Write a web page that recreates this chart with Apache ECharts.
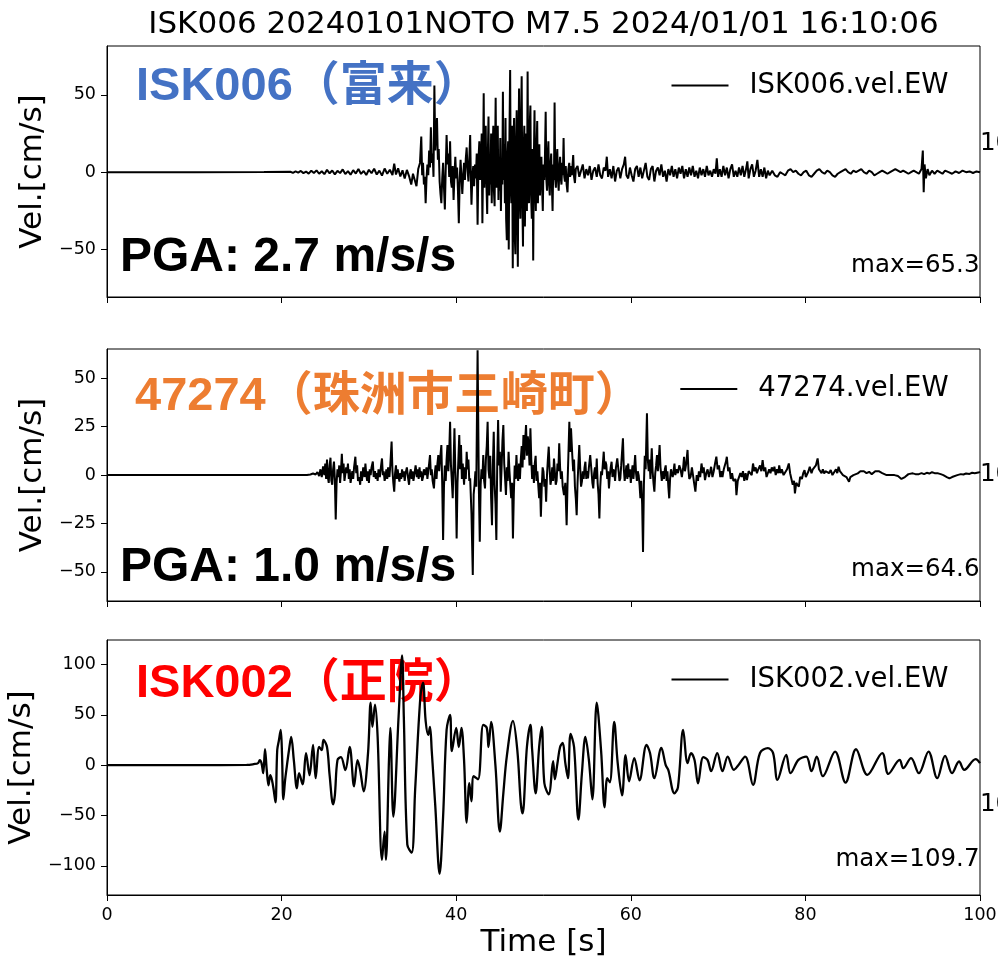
<!DOCTYPE html>
<html>
<head>
<meta charset="utf-8">
<script src="https://cdn.jsdelivr.net/npm/echarts@6/dist/echarts.min.js"></script>
<style>
  html, body { margin: 0; padding: 0; background: #fff; }
  #chart { width: 998px; height: 965px; }
</style>
</head>
<body>
<div id="chart"></div>
<script>
// --- data -------------------------------------------------------------
const titleText = "ISK006 20240101NOTO M7.5 2024/01/01 16:10:06";
const stationNames = ["ISK006（富来）", "47274（珠洲市三崎町）", "ISK002（正院）"];
const legendNames = ["ISK006.vel.EW", "47274.vel.EW", "ISK002.vel.EW"];
const maxLabels = ["max=65.3", "max=64.6", "max=109.7"];
const pgaLabels = ["PGA: 2.7 m/s/s", "PGA: 1.0 m/s/s"];
const xTicks = [0, 20, 40, 60, 80, 100];
const yTicksIsk006 = [-50, 0, 50];
const yTicks47274 = [-50, -25, 0, 25, 50];
const yTicksIsk002 = [-100, -50, 0, 50, 100];

// [time s, velocity cm/s]
const waveIsk006 = [
  [0,0],[10,0],[18,0.1],[21,0.3],[21.3,-0.4],[21.6,0.5],[21.9,-0.3],[22.2,0.8],[22.5,-0.6],[22.8,0.4],[23.1,-0.9],[23.4,1],
  [23.7,-0.5],[24,1.2],[24.3,-1],[24.6,0.6],[24.9,-1.3],[25.2,1.5],[25.5,-0.7],[25.8,1.1],[26.1,-1.4],[26.4,0.9],[26.7,-0.6],[27,1.8],
  [27.3,-1.2],[27.6,0.7],[27.9,-1.6],[28.2,1.3],[28.5,-0.9],[28.8,2],[29.1,-1.1],[29.4,0.8],[29.7,-1.8],[30,1.6],[30.3,-0.7],[30.6,2.2],
  [30.9,-1.5],[31.2,1],[31.5,-2.2],[31.8,2.4],[32.1,-1],[32.4,1.6],[32.7,-1.8],[32.9,5.5],[33.1,-1.5],[33.35,2.5],[33.6,-2.8],[33.85,1.2],
  [34.1,-4],[34.35,1.5],[34.6,-2.5],[34.85,-8],[35.05,-1],[35.25,-5],[35.45,-9],[35.65,2],[35.85,6],[36.0,23],[36.1,-2],[36.2,6],
  [36.3,-8],[36.4,-3],[36.5,-20],[36.6,-4],[36.7,5],[36.8,-2],[36.9,14],[37.0,3],[37.1,29],[37.2,6],[37.3,12],[37.4,-3],
  [37.5,56],[37.6,14],[37.7,24],[37.8,35],[37.9,8],[38.0,15],[38.1,-6],[38.2,-14],[38.3,-20],[38.4,-4],[38.5,6],[38.6,-10],
  [38.7,-24],[38.8,2],[38.9,24],[39.0,5],[39.1,12],[39.2,-3],[39.3,20],[39.4,-6],[39.5,-10],[39.6,4],[39.7,-18],[39.8,-2],
  [39.9,10],[40.0,-4],[40.1,3],[40.2,-12],[40.3,-33],[40.4,-5],[40.5,8],[40.6,-3],[40.7,-14],[40.8,-2],[40.9,6],[41.0,-5],
  [41.1,9],[41.2,16],[41.3,2],[41.4,-6],[41.5,8],[41.6,24],[41.7,-10],[41.75,-21],[41.85,-3],[41.95,4],[42.05,-9],[42.15,5],
  [42.25,-4],[42.35,12],[42.45,-34],[42.55,8],[42.65,20],[42.75,-5],[42.85,10],[42.92,25],[43.0,-33],[43.08,6],[43.15,51],[43.22,-10],
  [43.3,14],[43.38,30],[43.45,-5],[43.55,-27],[43.62,10],[43.7,36],[43.78,-15],[43.85,5],[43.92,-8],[44.0,25],[44.07,-20],[44.15,8],
  [44.25,30],[44.32,-12],[44.4,-22],[44.45,10],[44.52,48],[44.6,-10],[44.68,15],[44.76,30],[44.84,-18],[44.9,6],[44.98,-12],[45.05,22],
  [45.12,-25],[45.2,5],[45.28,-8],[45.35,52],[45.42,-5],[45.5,18],[45.58,-20],[45.65,35],[45.72,-30],[45.8,-44],[45.88,10],[45.95,20],
  [46.02,-50],[46.1,25],[46.18,66],[46.25,-10],[46.32,-20],[46.4,30],[46.48,-62],[46.56,15],[46.63,35],[46.7,-40],[46.78,-53],[46.86,20],
  [46.93,40],[47.0,-25],[47.06,-61],[47.14,20],[47.2,54],[47.28,-15],[47.35,-30],[47.42,30],[47.5,62],[47.58,-20],[47.65,-48],[47.72,10],
  [47.8,30],[47.87,-35],[47.95,5],[48.02,25],[48.1,-25],[48.18,65],[48.26,-10],[48.34,-20],[48.42,30],[48.5,43],[48.58,-15],[48.66,-30],
  [48.74,15],[48.82,-57],[48.9,10],[48.97,40],[49.05,-10],[49.12,-25],[49.2,15],[49.28,33],[49.36,-20],[49.44,5],[49.52,18],[49.6,-15],
  [49.68,5],[49.76,10],[49.84,-10],[49.92,-25],[50.0,5],[50.08,-5],[50.16,8],[50.25,39],[50.33,-5],[50.4,-12],[50.48,10],[50.56,20],
  [50.64,-8],[50.72,-15],[50.8,5],[50.88,12],[50.96,-8],[51.04,-25],[51.12,5],[51.2,-5],[51.27,45],[51.35,-5],[51.42,-10],[51.5,8],
  [51.58,15],[51.66,-5],[51.74,-12],[51.82,3],[51.9,10],[51.98,-4],[52.06,-8],[52.14,6],[52.22,-2],[52.3,22],[52.38,-3],[52.46,-6],
  [52.55,4],[52.65,-8],[52.75,-13],[52.85,2],[52.95,6],[53.05,-3],[53.15,4],[53.25,-2],[53.4,11],[53.5,-3],[53.6,-7],[53.7,2],
  [53.9,4],[54.1,-3],[54.3,1],[54.5,5],[54.7,-4],[54.9,2],[55.1,-2],[55.3,4],[55.5,-5],[55.7,1],[55.9,3],[56.1,-3],
  [56.3,5],[56.5,-2],[56.7,-4],[56.9,3],[57.1,1],[57.25,10],[57.4,-3],[57.6,2],[57.8,-4],[58.0,4],[58.2,-6],[58.4,1],
  [58.6,3],[58.8,-4],[59.0,2],[59.2,5],[59.35,10],[59.5,-2],[59.7,-4],[59.9,3],[60.1,-2],[60.3,-6],[60.5,2],[60.7,4],
  [60.9,-3],[61.1,3],[61.3,-4],[61.5,1],[61.7,6],[61.9,-3],[62.1,-5],[62.3,2],[62.5,4],[62.7,-6],[62.9,1],[63.1,3],
  [63.3,-2],[63.5,5],[63.7,-3],[63.9,1],[64.1,-6],[64.3,2],[64.5,-2],[64.7,4],[64.9,-3],[65.1,2],[65.3,-4],[65.5,3],
  [65.7,-1],[65.9,4],[66.1,-4],[66.3,2],[66.5,-3],[66.7,3],[66.9,-2],[67.1,4],[67.3,-3],[67.5,1],[67.7,-4],[67.9,3],
  [68.1,-2],[68.3,2],[68.5,-3],[68.7,4],[68.9,-2],[69.1,1],[69.3,-3],[69.5,2],[69.7,-1],[69.85,9],[70.0,-3],[70.2,2],
  [70.4,-3],[70.6,4],[70.8,-2],[71.0,3],[71.2,-4],[71.4,2],[71.6,5],[71.8,-3],[72.0,1],[72.2,-3],[72.4,3],[72.6,-2],
  [72.8,4],[73.0,-3],[73.2,2],[73.35,7],[73.5,-4],[73.7,2],[73.9,5],[74.1,-3],[74.3,1],[74.5,8],[74.7,-3],[74.9,2],
  [75.1,-3],[75.3,3],[75.5,-4],[75.7,1],[75.9,-2],[76.2,1],[76.5,-2],[76.8,-3],[77.1,0],[77.4,-1],[77.7,-2],[78.0,1],
  [78.3,2],[78.6,0],[78.9,1],[79.2,-1],[79.5,-2],[79.8,0],[80.1,1],[80.4,-2],[80.7,-3],[81.0,-1],[81.3,1],[81.6,2],
  [81.9,0],[82.2,-1],[82.5,1],[82.8,0],[83.1,-2],[83.4,-3],[83.7,-1],[84.0,0],[84.3,1],[84.6,2],[84.9,0],[85.2,-1],
  [85.5,1],[85.8,0],[86.1,1],[86.4,2],[86.7,0],[87.0,-1],[87.3,1],[87.6,0],[87.9,-2],[88.2,-1],[88.5,0],[88.8,1],
  [89.1,0],[89.4,-1],[89.7,0],[90.0,1],[90.3,2],[90.6,1],[90.9,0],[91.2,1],[91.5,0],[91.8,-1],[92.1,0],[92.4,1],
  [92.7,0],[93.0,-1],[93.3,2],[93.45,14],[93.55,-13],[93.65,5],[93.8,-4],[94.0,2],[94.2,-2],[94.5,1],[94.8,-1],[95.1,1],
  [95.4,0],[95.7,-1],[96.0,1],[96.4,0],[96.8,-1],[97.2,0.5],[97.6,-0.5],[98.0,1],[98.4,0],[98.8,0.5],[99.2,-0.5],[99.6,0.5],
  [100,0]
];

const wave47274 = [
  [0,0],[10,0],[20,0],[22.9,0],[23.3,0.3],[23.6,0.8],[23.9,0.3],[24.1,1.5],[24.3,-0.5],[24.45,3],[24.6,-1],[24.75,4.5],
  [24.9,0],[25.0,6],[25.1,-2],[25.2,8],[25.3,-1],[25.4,-4],[25.5,5],[25.6,9],[25.7,-3],[25.8,-5],[25.9,3],[26.0,7],
  [26.1,-2],[26.2,-23],[26.3,-4],[26.4,3],[26.5,-1],[26.6,5],[26.7,-4],[26.8,2],[26.9,11],[27.0,1],[27.1,6],[27.2,-3],
  [27.3,-4],[27.4,4],[27.5,1],[27.6,6],[27.7,-2],[27.8,3],[27.9,-4],[28.0,-5],[28.1,2],[28.2,-2],[28.3,4],[28.45,9.5],
  [28.55,1],[28.65,5],[28.75,-3],[28.9,-1],[29.0,-5],[29.1,2],[29.2,-3],[29.35,4],[29.5,-1],[29.6,6],[29.7,0],[29.8,-3],
  [29.9,2],[30.0,-4],[30.1,3],[30.2,0],[30.3,4],[30.45,7],[30.55,-1],[30.7,2],[30.8,-2],[30.9,1],[31.0,-3],[31.1,3],
  [31.25,-1],[31.4,5],[31.5,8.6],[31.6,0],[31.7,2],[31.8,-3],[31.9,-1],[32.0,3],[32.1,-2],[32.2,4],[32.35,-1],[32.45,5],
  [32.6,17.3],[32.7,2],[32.8,-4],[32.9,-8.6],[33.0,1],[33.1,5],[33.2,-2],[33.3,3],[33.4,-1],[33.5,-3.4],[33.6,1],[33.7,-2],
  [33.8,3],[33.9,-1],[34.0,2],[34.1,-3],[34.2,1],[34.35,4],[34.5,-2],[34.6,-5],[34.7,1],[34.8,3],[34.9,-2],[35.0,2],
  [35.1,-3],[35.2,0],[35.35,5],[35.5,-1],[35.6,3],[35.7,-2],[35.8,4],[35.9,-1],[36.0,2],[36.1,-3],[36.2,-1],[36.3,3],
  [36.45,0],[36.6,4],[36.7,-2],[36.8,2],[36.9,6],[37.0,10.4],[37.1,0],[37.2,3],[37.3,-3],[37.45,-6.9],[37.55,1],[37.65,5],
  [37.75,-2],[37.85,6],[37.95,10.4],[38.05,2],[38.15,8],[38.3,15.5],[38.4,-5],[38.5,-33.6],[38.6,-6],[38.7,5],[38.8,-3],[38.9,8],
  [39.0,15.5],[39.1,2],[39.2,12],[39.3,27.6],[39.4,5],[39.5,-3],[39.6,-12],[39.7,6],[39.8,24.2],[39.9,2],[39.97,-10],[40.05,-32.8],
  [40.15,-4],[40.25,8],[40.35,20.7],[40.45,3],[40.55,15.5],[40.65,-2],[40.75,6],[40.9,-5],[41.0,4],[41.1,-2],[41.2,12],[41.3,3],
  [41.4,8],[41.5,-3],[41.6,-1.7],[41.75,-20],[41.9,-51.7],[42.0,-10],[42.1,-5],[42.2,2],[42.3,-6],[42.45,64.6],[42.6,-8],[42.7,-34.5],
  [42.8,-5],[42.9,3],[43.0,-2],[43.1,10.4],[43.2,-3],[43.3,-6.9],[43.4,8],[43.5,15],[43.6,27.6],[43.7,3],[43.8,-1.7],[43.9,10],
  [44.0,-12],[44.1,-25.9],[44.2,5],[44.3,22.4],[44.4,-5],[44.5,-15],[44.6,-33.6],[44.7,6],[44.8,28.5],[44.9,5],[45.0,12],[45.1,-8.6],
  [45.2,4],[45.3,18],[45.4,25.9],[45.5,6],[45.6,-2],[45.7,-10.3],[45.8,4],[45.9,-3],[46.0,12.1],[46.1,2],[46.2,-5.2],[46.3,-12],
  [46.4,-4],[46.5,-32.8],[46.6,-10],[46.7,5],[46.8,-2],[46.9,10.4],[47.0,0],[47.1,-3],[47.2,6],[47.3,-2],[47.4,8],[47.5,15],
  [47.6,4],[47.7,20.7],[47.8,8],[47.9,18],[48.0,25.9],[48.1,10],[48.2,20],[48.3,15.5],[48.4,5],[48.5,24.2],[48.6,8],[48.7,-2],
  [48.8,5.2],[48.9,-4],[49.0,6],[49.1,10],[49.2,-3],[49.3,2],[49.4,-5.2],[49.5,-12],[49.6,-4],[49.7,-21.5],[49.8,-6],[49.9,4],
  [50.0,1.7],[50.1,-6],[50.2,-2],[50.3,-13.8],[50.4,0],[50.5,8],[50.6,14.7],[50.7,3],[50.8,-5],[50.9,-2],[51.0,4],[51.1,-3],
  [51.2,8.6],[51.3,2],[51.4,-5],[51.5,-3],[51.6,6],[51.7,2],[51.8,16.4],[51.9,4],[52.0,-2],[52.1,2],[52.2,-6],[52.35,-10.3],
  [52.5,-4],[52.65,-25.9],[52.75,-5],[52.85,10],[52.96,27.6],[53.05,12],[53.15,24.2],[53.3,10],[53.4,2],[53.5,8],[53.6,-6],[53.7,-12],
  [53.8,-20.7],[53.9,-4],[54.0,6],[54.1,15.5],[54.2,4],[54.3,-6],[54.4,-3.4],[54.5,2],[54.6,-2],[54.7,4],[54.8,6.9],[54.9,-2],
  [55.0,2],[55.1,-1.7],[55.2,4],[55.35,10.4],[55.5,2],[55.6,-4],[55.7,-6.9],[55.8,1],[55.9,4],[56.0,-2],[56.1,8.6],[56.2,-4],
  [56.3,-10],[56.4,-22.4],[56.5,-6],[56.6,2],[56.7,0],[56.8,6],[56.9,12.1],[57.0,3],[57.1,7],[57.2,5.2],[57.3,-2],[57.4,2],
  [57.5,-6.9],[57.6,0],[57.7,4],[57.8,6.9],[57.9,-1],[58.0,3],[58.1,1.7],[58.2,-3],[58.3,4],[58.45,8.6],[58.6,2],[58.7,-3],
  [58.8,-1.7],[58.9,5],[59.0,12],[59.1,19],[59.2,3],[59.3,-3],[59.4,1],[59.5,5],[59.6,-2],[59.7,6],[59.8,-1],[59.9,3],
  [60.0,-4],[60.1,1],[60.2,5],[60.3,-2],[60.4,4],[60.5,10.4],[60.6,1],[60.7,-3],[60.8,2],[60.9,0],[61.0,-5],[61.1,-12],
  [61.2,-3],[61.3,-15],[61.4,-39.7],[61.5,-5],[61.6,10],[61.7,3],[61.85,32],[61.95,8],[62.05,2],[62.15,8],[62.25,-2],[62.4,13.8],
  [62.5,2],[62.6,-4],[62.7,-8.6],[62.8,1],[62.9,5],[63.0,10.4],[63.1,2],[63.2,8],[63.3,15.5],[63.4,4],[63.55,-3],[63.65,2],
  [63.8,-2],[63.9,3],[64.0,5],[64.1,-3],[64.2,2],[64.3,-6],[64.4,-12],[64.5,-2],[64.6,3],[64.7,4],[64.8,-1],[64.9,2],
  [65.0,6],[65.1,0],[65.25,3],[65.4,1],[65.55,5],[65.7,3],[65.85,-1],[66.0,4],[66.1,9.5],[66.2,2],[66.35,6],[66.5,13],
  [66.6,3],[66.7,-2],[66.85,-0.9],[67.0,4],[67.1,3],[67.25,-4],[67.4,-8.6],[67.55,0],[67.7,-3],[67.8,2],[67.95,-1],[68.1,6],
  [68.25,1],[68.35,4],[68.5,-2.6],[68.65,1],[68.8,3],[68.95,-1],[69.1,2],[69.2,4.3],[69.35,-1],[69.5,2],[69.65,6],[69.8,9.5],
  [69.95,3],[70.1,5],[70.25,-1],[70.4,2],[70.5,-1],[70.65,3],[70.8,4],[70.9,7],[71.0,9.5],[71.15,2],[71.3,4],[71.45,-2],
  [71.6,1],[71.75,-3],[71.9,-4],[72.0,-2],[72.1,-10.4],[72.25,-3],[72.4,-2],[72.55,1],[72.7,-1],[72.85,2],[73.0,-3],[73.15,1],
  [73.3,-2.6],[73.5,2],[73.7,3],[73.85,0],[74.0,6],[74.15,2],[74.3,4],[74.45,1],[74.6,3],[74.8,5],[74.95,2],[75.1,7.8],
  [75.25,2],[75.4,4],[75.55,-1],[75.7,-0.9],[75.85,3],[76.0,1],[76.15,4],[76.3,2],[76.45,4.3],[76.6,0],[76.75,3],[76.9,1],
  [77.0,5],[77.15,1],[77.3,3],[77.5,0],[77.7,0.9],[77.9,3],[78.1,6],[78.25,1],[78.4,-2],[78.55,-5],[78.7,-3],[78.8,-9.5],
  [78.95,-4],[79.1,-3],[79.25,-6],[79.4,-0.9],[79.6,-2],[79.75,1],[79.9,2.6],[80.05,-1],[80.2,0],[80.35,2],[80.5,4.3],[80.7,1],
  [80.85,3],[81.0,2],[81.2,5],[81.4,8.6],[81.55,3],[81.7,4],[81.85,1],[82.0,3],[82.15,0.9],[82.3,2],[82.5,3],[82.7,1],
  [82.9,2.6],[83.1,0],[83.3,1],[83.5,3],[83.65,1],[83.8,4.3],[83.95,2],[84.1,2],[84.3,0],[84.5,0.9],[84.7,-1],[84.85,-2],
  [85.0,-3.4],[85.15,-1],[85.3,-2],[85.5,0],[85.7,1],[86.0,0.9],[86.3,2],[86.5,1],[86.7,2],[87.0,1],[87.3,1.7],[87.6,0.5],
  [87.8,1],[88.0,2],[88.2,1],[88.4,2],[88.6,2.6],[88.8,1],[89.0,1.5],[89.3,0],[89.5,0.5],[89.7,0],[89.9,0.9],[90.2,0],
  [90.4,-1],[90.6,-0.5],[90.8,-1.5],[91.0,-2],[91.2,-2.6],[91.4,-1],[91.6,0],[91.8,0.5],[92.0,0],[92.3,0.9],[92.6,0.5],[92.8,1.2],
  [93.0,0.5],[93.3,1],[93.6,0.5],[93.9,1.2],[94.2,0.8],[94.5,1.5],[94.8,1],[95.2,0.9],[95.5,0.5],[95.8,0],[96.0,-0.5],[96.2,-1],
  [96.5,-1.7],[96.8,-1],[97.0,-0.5],[97.4,0],[97.8,0.5],[98.1,0.3],[98.4,0.8],[98.8,0.6],[99.1,1.2],[99.4,1],[99.6,1.5],[99.8,1.3],
  [100,1.7]
];

const waveIsk002 = [
  [0,0],[10,0],[16,0.2],[16.8,1],[17.3,2],[17.5,5],[17.7,2],[17.9,-8],[18.1,16],[18.3,-5],[18.5,-20],[18.7,-10],
  [18.9,-15],[19.1,-25],[19.3,-37],[19.5,15],[19.7,25],[19.9,35],[20.05,10],[20.2,-34],[20.4,-15],[20.6,-1],[20.85,15],[21.1,28],
  [21.4,5],[21.75,-23],[22.0,-8],[22.4,-19],[22.8,12],[23.2,-10],[23.6,20],[23.9,-13],[24.3,18],[24.6,15],[24.8,25],[25.2,18],
  [25.5,-10],[25.9,-39],[26.1,-30],[26.4,5],[26.8,8],[27.3,-5],[27.8,18],[28.3,-21],[28.7,5],[29.0,-5],[29.4,-26],[29.9,12],
  [30.2,62],[30.4,38],[30.7,60],[31.0,28],[31.5,-94],[31.8,-66],[31.95,-94],[32.3,5],[32.45,37],[32.8,-51],[33.4,48],[33.8,109],
  [34.0,48],[34.4,-79],[34.9,-87],[35.3,-24],[35.9,68],[36.2,82],[36.5,44],[36.8,30],[37.0,38],[37.2,14],[37.6,-40],[38.1,-108],
  [38.5,-51],[38.9,35],[39.3,50],[39.5,14],[40.0,37],[40.3,18],[40.6,37],[40.9,5],[41.2,-57],[41.5,-18],[41.75,-36],[42.0,-11],
  [42.5,-14],[43.1,40],[43.5,37],[43.7,18],[44.0,43],[44.5,-1],[45.0,-66],[45.4,-28],[45.8,9],[46.5,44],[47.0,15],[47.4,-38],
  [47.6,-48],[48.1,18],[48.5,40],[48.7,15],[49.1,-28],[49.5,18],[49.8,38],[50.1,-18],[50.6,-29],[51.1,4],[51.3,-14],[51.6,2],
  [51.9,18],[52.2,22],[52.5,2],[52.8,-13],[53.1,31],[53.5,18],[54.0,-54],[54.4,-8],[54.8,28],[55.2,5],[55.6,-34],[56.1,62],
  [56.6,14],[57.0,-42],[57.3,-13],[57.6,-17],[58.1,43],[58.5,2],[59.0,-30],[59.4,10],[59.8,-16],[60.4,7],[61.0,-15],[61.8,20],
  [62.2,12],[62.7,-13],[63.5,17],[64.0,0],[64.3,-5],[65.0,-28],[65.4,-22],[66.0,35],[66.5,2],[66.9,12],[67.3,5],[67.7,-18],
  [68.3,8],[68.8,5],[69.2,-6],[69.9,12],[70.5,-6],[71.1,8.5],[71.8,-4.7],[72.2,-1.4],[73.1,8.5],[74.0,-19.6],[74.8,12],[75.7,16.8],
  [76.3,12],[76.8,-14.6],[77.8,10.2],[78.3,-8],[79.2,5.2],[80.1,8.5],[80.7,-6],[81.3,8.5],[82.0,-11],[83.4,13.5],[84.6,-17.3],[85.8,15.8],
  [87.1,-9.7],[88.8,12],[89.5,-8.7],[90.8,5.2],[91.2,-3],[92.1,6.9],[93.0,-8],[94.1,13.5],[95.1,-13],[96.0,9.2],[96.8,-8],[97.6,3.6],
  [98.2,-4.7],[99.5,5.9],[100,2]
];

// --- layout -----------------------------------------------------------
const FONT = "DejaVu Sans";
const LABEL_FONT = '"Liberation Sans", "Noto Sans CJK JP", sans-serif';
const panels = [
  { top: 46, height: 251, min: -80.6, max: 81.5, ticks: yTicksIsk006, data: waveIsk006, smooth: false, width: 2 },
  { top: 349, height: 252, min: -65.1, max: 65.2, ticks: yTicks47274, data: wave47274, smooth: false, width: 2 },
  { top: 640, height: 255, min: -129, max: 124.3, ticks: yTicksIsk002, data: waveIsk002, smooth: 0.35, width: 2.3 }
];
const stationColors = ["#4472C4", "#ED7D31", "#FF0000"];

const minus = v => (v < 0 ? "\u2212" + Math.abs(v) : String(v));

const chart = echarts.init(document.getElementById("chart"), null, { renderer: "canvas" });

const grids = panels.map(p => ({
  left: 107,
  width: 873,
  top: p.top,
  height: p.height,
  show: true,
  borderColor: "#000",
  borderWidth: 1,
  backgroundColor: "transparent",
  outerBoundsMode: "none"
}));

const xAxes = panels.map((p, i) => ({
  gridIndex: i,
  type: "value",
  min: xTicks[0],
  max: xTicks[xTicks.length - 1],
  interval: 20,
  axisLine: { show: true, onZero: false, lineStyle: { color: "#000", width: 1 } },
  axisTick: { show: true, inside: false, length: 6, lineStyle: { color: "#000", width: 1 } },
  axisLabel: {
    show: i === 2,
    margin: 11,
    color: "#000",
    fontFamily: FONT,
    fontSize: 17.5,
    showMinLabel: true,
    showMaxLabel: true
  },
  splitLine: { show: false },
  name: i === 2 ? "Time [s]" : "",
  nameLocation: "middle",
  nameGap: 32,
  nameTextStyle: { color: "#000", fontFamily: FONT, fontSize: 31 }
}));

const yAxes = panels.map((p, i) => ({
  gridIndex: i,
  type: "value",
  min: p.min,
  max: p.max,
  axisLine: { show: true, onZero: false, lineStyle: { color: "#000", width: 1 } },
  axisTick: { show: true, inside: false, length: 6, lineStyle: { color: "#000", width: 1 }, customValues: p.ticks },
  axisLabel: {
    customValues: p.ticks,
    formatter: minus,
    margin: 11,
    color: "#000",
    fontFamily: FONT,
    fontSize: 17.5
  },
  splitLine: { show: false },
  name: "Vel.[cm/s]",
  nameLocation: "middle",
  nameRotate: 90,
  nameGap: 58,
  nameTextStyle: { color: "#000", fontFamily: FONT, fontSize: 31 }
}));

const series = panels.map((p, i) => ({
  name: legendNames[i],
  type: "line",
  xAxisIndex: i,
  yAxisIndex: i,
  data: p.data,
  smooth: p.smooth,
  symbol: "none",
  showSymbol: false,
  silent: true,
  animation: false,
  z: 3,
  lineStyle: { color: "#000", width: p.width },
  itemStyle: { color: "#000" }
}));

const legendPos = [
  { left: 671.5, y: 83.5 },
  { left: 680.3, y: 387 },
  { left: 671.5, y: 677.5 }
];
const legends = legendNames.map((n, i) => ({
  data: [n],
  left: legendPos[i].left,
  top: legendPos[i].y - 15,
  padding: 0,
  icon: "rect",
  itemWidth: 57,
  itemHeight: 2,
  selectedMode: false,
  itemStyle: { color: "#000" },
  textStyle: { color: "#000", fontFamily: FONT, fontSize: 27.5, lineHeight: 34, padding: [0, 0, 0, 16] }
}));

// station names, PGA and max annotations
const textEl = (text, x, y, size, color, weight, family, align) => ({
  type: "text",
  x: x,
  y: y,
  z: 1,
  silent: true,
  style: {
    text: text,
    fill: color,
    fontSize: size,
    fontWeight: weight || "normal",
    fontFamily: family || FONT,
    align: align || "left",
    textAlign: align || "left",
    verticalAlign: "middle",
    textVerticalAlign: "middle"
  }
});

const graphics = [
  textEl(stationNames[0], 136, 87, 47, stationColors[0], "bold", LABEL_FONT),
  textEl(stationNames[1], 135, 397, 47, stationColors[1], "bold", LABEL_FONT),
  textEl(stationNames[2], 136, 684, 47, stationColors[2], "bold", LABEL_FONT),
  textEl(pgaLabels[0], 120, 258, 48, "#000", "bold", LABEL_FONT),
  textEl(pgaLabels[1], 120, 568, 48, "#000", "bold", LABEL_FONT),
  textEl(maxLabels[0], 979.5, 266, 24.5, "#000", "normal", FONT, "right"),
  textEl(maxLabels[1], 979.5, 569.5, 24.5, "#000", "normal", FONT, "right"),
  textEl(maxLabels[2], 979.5, 859.5, 24.5, "#000", "normal", FONT, "right"),
  textEl("100", 980, 143.5, 24.5, "#000"),
  textEl("100", 980, 475, 24.5, "#000"),
  textEl("100", 980, 805, 24.5, "#000")
];

chart.setOption({
  backgroundColor: "#fff",
  animation: false,
  title: {
    text: titleText,
    left: 543.5,
    top: 9.5,
    textAlign: "center",
    padding: 0,
    textStyle: { color: "#000", fontFamily: FONT, fontSize: 31, fontWeight: "normal" }
  },
  legend: legends,
  grid: grids,
  xAxis: xAxes,
  yAxis: yAxes,
  series: series,
  graphic: { elements: graphics }
});
</script>
</body>
</html>
